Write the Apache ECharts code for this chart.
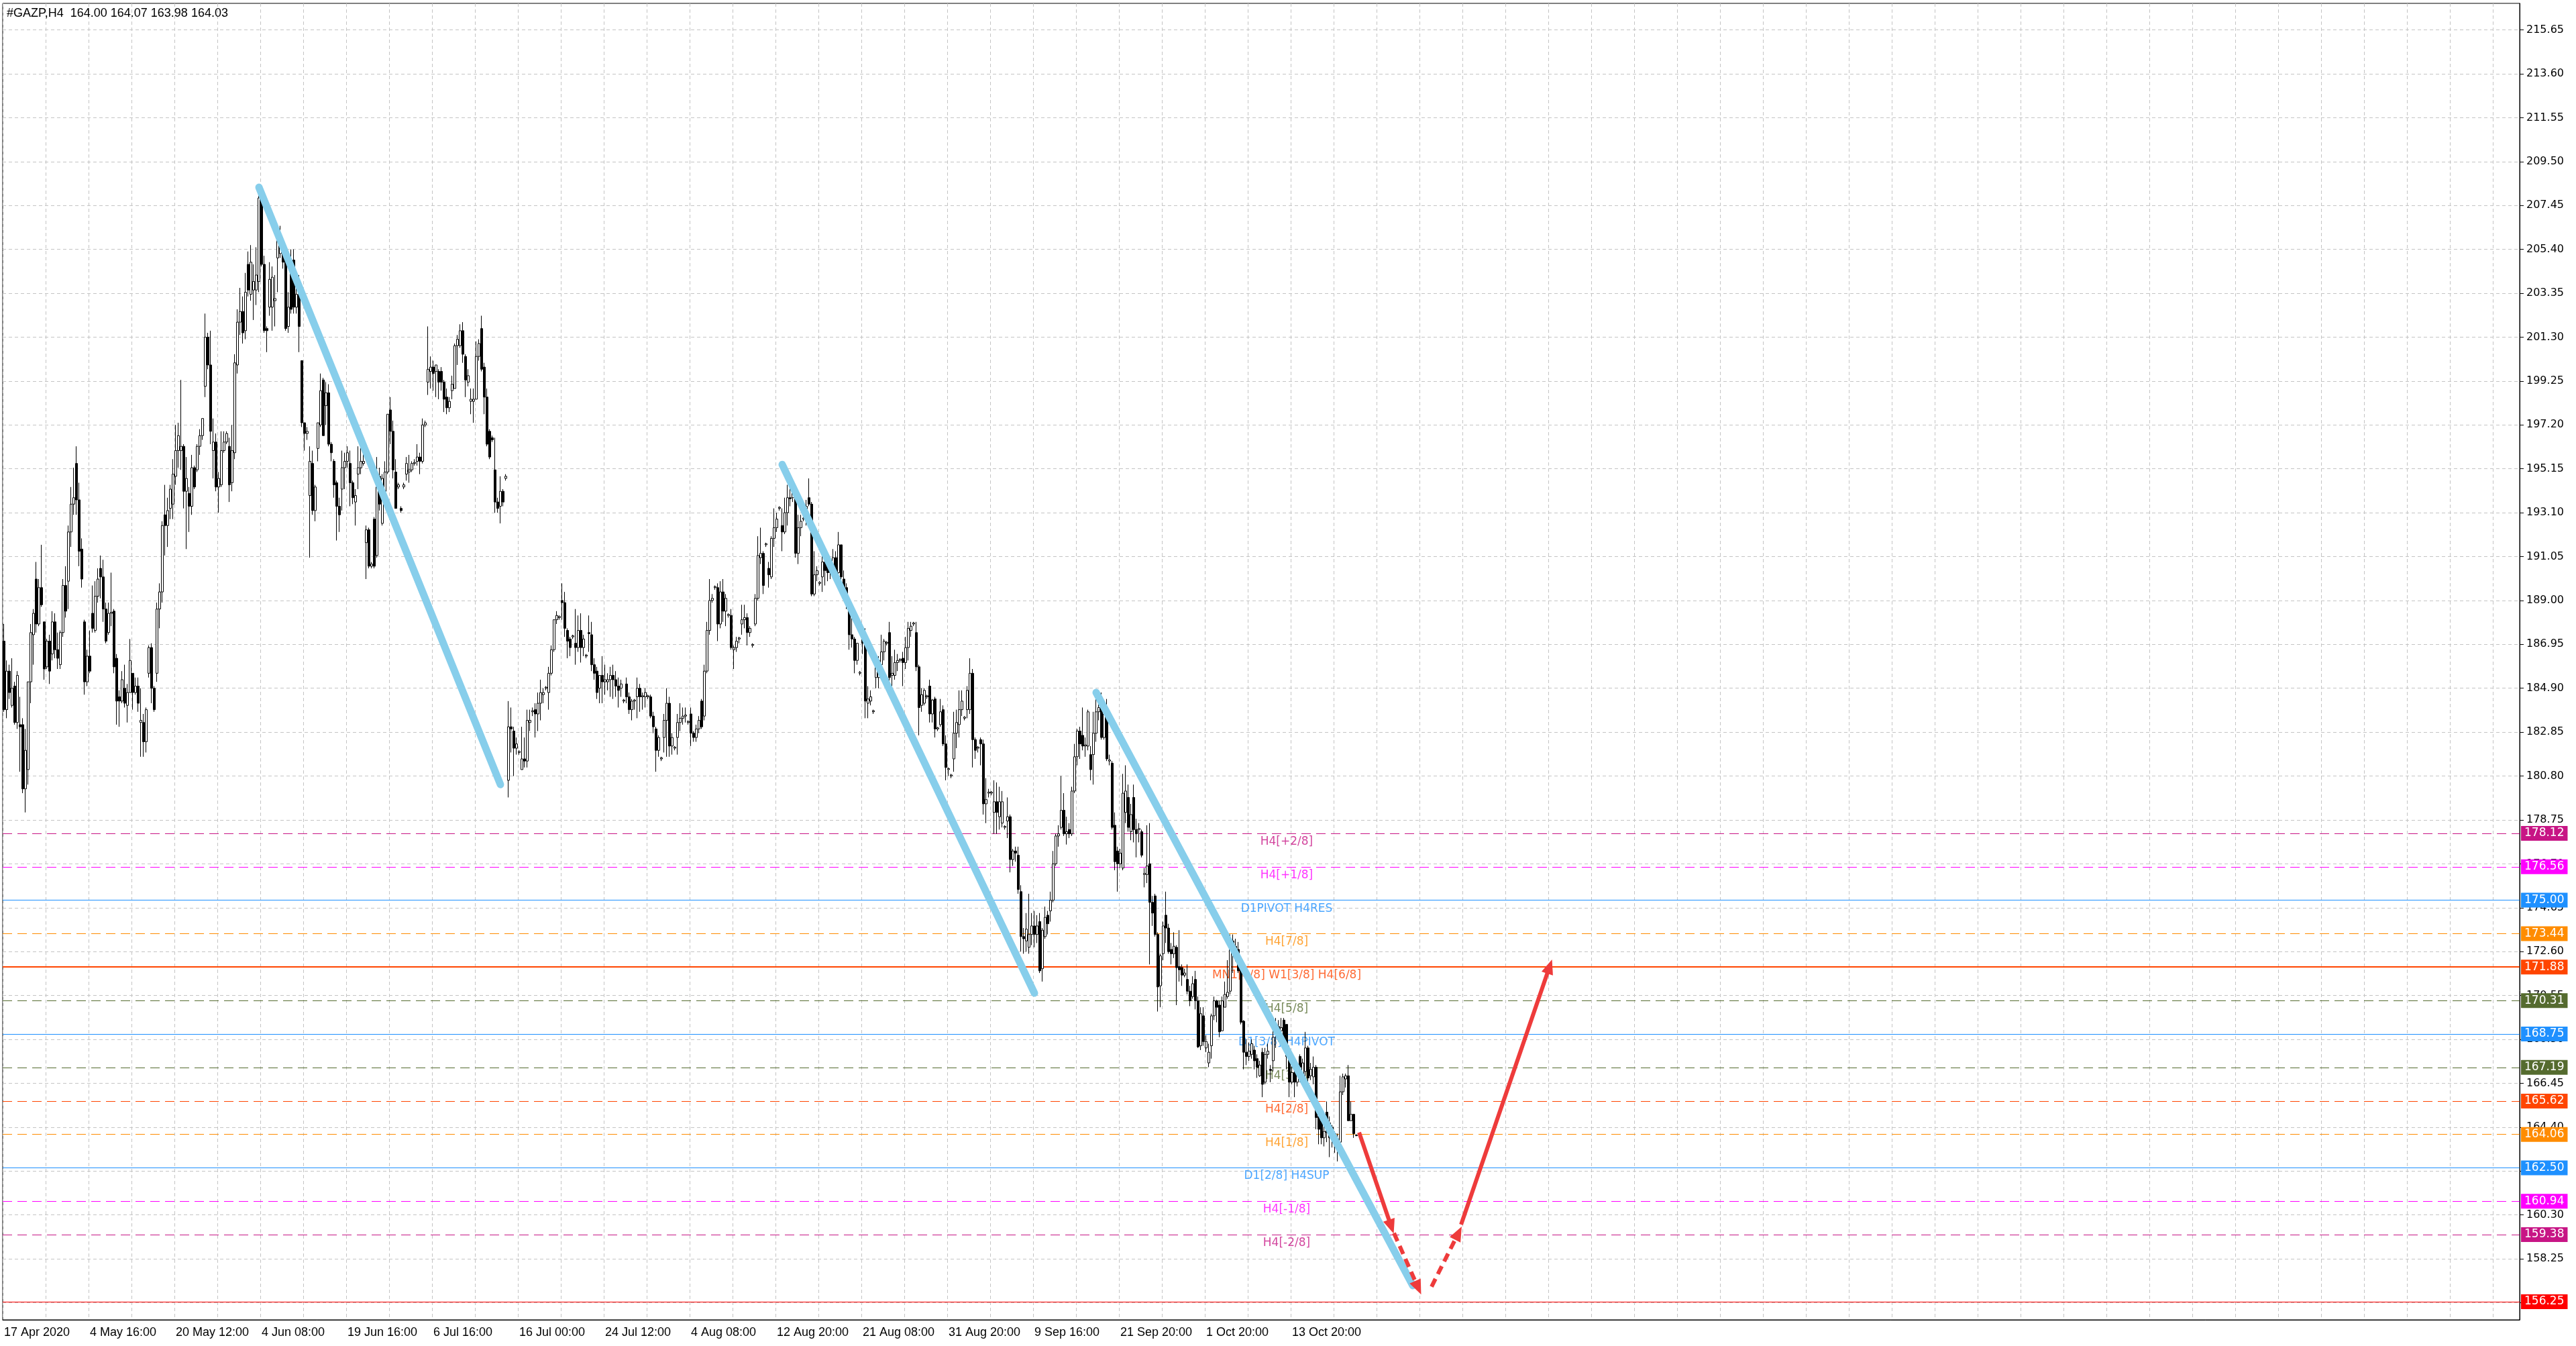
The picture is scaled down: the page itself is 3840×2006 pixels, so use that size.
<!DOCTYPE html>
<html>
<head>
<meta charset="utf-8">
<title>#GAZP,H4</title>
<script src="https://cdn.jsdelivr.net/npm/echarts@6/dist/echarts.min.js"></script>
<style>
html, body { margin: 0; padding: 0; background: #fff; }
#main { width: 3840px; height: 2006px; }
</style>
</head>
<body>
<div id="main"></div>
<script>
// header line of the terminal window
var headerText = '#GAZP,H4  164.00 164.07 163.98 164.03';

// time axis labels, one every 32 bars
var timeLabels = ['17 Apr 2020', '4 May 16:00', '20 May 12:00', '4 Jun 08:00', '19 Jun 16:00', '6 Jul 16:00',
  '16 Jul 00:00', '24 Jul 12:00', '4 Aug 08:00', '12 Aug 20:00', '21 Aug 08:00', '31 Aug 20:00',
  '9 Sep 16:00', '21 Sep 20:00', '1 Oct 20:00', '13 Oct 20:00'];

// price scale labels
var priceTicks = [215.65, 213.60, 211.55, 209.50, 207.45, 205.40, 203.35, 201.30, 199.25, 197.20, 195.15,
  193.10, 191.05, 189.00, 186.95, 184.90, 182.85, 180.80, 178.75, 176.70, 174.65, 172.60, 170.55,
  168.50, 166.45, 164.40, 162.35, 160.30, 158.25, 156.20];

// H4 bars [open, close, low, high]
var barsA = [
[187.1,183.9,183.8,187.9],[183.9,185.7,183.5,186.2],[185.7,184.7,184.4,186.0],[184.1,184.9,184.0,186.3],[185.0,183.3,183.2,185.2],
[183.3,185.5,183.0,185.7],[183.2,183.1,181.0,184.5],[183.2,180.2,180.0,183.5],[180.2,182.0,179.1,183.0],[181.1,185.2,180.4,185.2],
[185.2,187.5,184.2,187.9],[187.4,188.4,186.0,188.6],[190.0,187.9,187.5,190.8],[187.9,189.6,187.8,190.0],[189.6,188.8,188.7,191.6],
[188.0,185.8,185.3,188.0],[185.9,187.1,185.8,187.2],[187.1,185.7,185.1,187.4],[186.5,188.0,186.2,188.5],[188.0,186.7,186.3,188.4],
[186.7,186.3,185.8,187.5],[186.0,187.5,185.8,187.6],[187.5,189.7,187.3,190.0],[189.7,188.5,188.2,190.6],[189.9,192.2,188.6,192.5],
[192.2,193.5,191.5,194.3],[193.5,193.8,193.0,195.2],[195.4,193.7,193.0,196.2],[193.7,191.3,190.6,194.5],[191.4,190.0,189.6,191.9],
[188.0,185.2,184.6,188.1],[185.2,186.4,185.0,186.7],[186.4,185.7,185.6,187.6],[188.4,187.7,187.5,189.7],[187.6,189.2,187.5,189.9],
[189.2,190.0,188.9,190.5],[190.5,190.1,189.1,191.1],[190.1,188.6,188.0,190.9],[188.6,187.1,187.0,188.9],[187.5,188.4,187.4,188.9],
[188.4,188.45,187.8,190.3],[188.5,185.9,185.6,188.6],[186.3,184.3,183.2,186.5],[184.5,184.3,183.1,184.8],[184.3,185.3,184.2,185.7],
[184.9,184.2,184.0,186.0],[184.1,184.7,183.3,185.1],[184.7,186.2,184.7,187.2],[185.6,184.7,183.9,185.6],[184.7,185.0,184.6,185.4],
[185.0,184.2,183.8,185.4],[183.3,183.4,181.7,184.9],[183.3,182.4,181.7,183.7],[182.4,183.9,181.9,184.0],[185.6,186.8,185.4,186.9],
[186.8,184.9,184.2,187.0],[184.9,183.9,183.8,185.0],[185.6,188.6,185.2,188.9],[188.6,189.4,187.7,189.8],[189.4,192.5,188.9,192.7],
[193.0,192.5,191.1,194.4],[192.5,193.2,191.5,193.8],[193.3,194.2,192.8,194.4],[193.5,194.9,192.8,195.6],[194.8,196.0,194.4,197.2],
[196.0,196.7,195.2,197.3],[196.0,196.2,195.1,199.3],[196.2,194.1,193.3,196.3],[194.1,194.7,191.4,195.7],[194.0,193.4,192.2,194.3],
[193.4,195.2,193.0,195.8],[195.2,194.3,194.2,195.3],[195.1,196.2,195.0,196.3],[196.2,196.7,195.8,197.0],[196.7,197.5,196.5,197.5],
[199.0,201.3,198.5,202.4],[201.3,200.0,199.8,201.5],[200.0,196.9,196.3,201.6],[196.0,196.4,194.7,197.5],[196.4,194.3,194.1,196.8],
[194.3,194.7,193.1,195.0],[194.4,196.0,194.3,196.9],[196.0,196.4,195.9,196.9],[196.4,196.8,196.3,196.9],[196.2,194.4,193.6,196.6],
[194.5,196.0,194.1,197.2],[195.9,200.1,195.6,200.5],[200.0,202.0,199.6,202.6],[202.0,202.5,201.4,203.6],[202.5,201.5,201.0,203.2],
[201.6,203.4,201.2,204.3],[204.7,203.5,203.2,205.3],[203.3,204.8,203.0,205.6],[203.5,203.9,202.1,204.7],[203.5,204.2,202.8,205.5],
[203.9,207.8,203.4,208.4],[207.7,204.7,204.6,208.0],[204.7,201.6,201.5,205.1],[201.7,201.6,200.6,201.8],[202.7,204.0,202.3,204.8]
];
var barsB = [
[202.7,204.1,201.6,204.6],[203.0,203.1,201.8,204.2],[205.0,205.9,203.4,206.0],[205.2,205.5,205.0,206.5],[205.4,204.8,204.5,205.9],
[205.0,201.7,201.6,205.6],[201.8,202.7,201.5,203.4],[204.3,202.6,202.4,205.4],[204.9,202.7,202.4,205.4],[202.7,203.3,202.4,203.9],
[203.3,201.8,200.6,204.2],[200.2,197.3,197.1,200.2],[197.3,196.8,196.0,197.3],[196.8,196.9,196.5,197.1],[193.9,195.5,191.0,196.2],
[195.4,193.2,193.0,196.0],[193.2,194.3,192.7,194.4],[196.1,197.3,195.5,197.3],[197.2,198.8,197.1,199.6],[199.3,196.7,196.7,199.4],
[198.1,198.7,197.2,199.2],[198.7,196.3,196.2,199.1],[196.3,195.9,195.5,196.4],[195.5,194.4,193.8,195.6],[194.5,193.4,191.8,194.6],
[193.4,193.0,192.2,193.8],[194.2,195.2,193.2,196.0],[195.2,195.5,194.2,195.9],[195.5,195.9,195.2,196.2],[195.4,194.5,193.4,196.0],
[194.5,193.8,193.5,194.6],[193.6,193.9,192.5,194.2],[194.9,195.2,194.2,196.2],[195.2,195.5,194.9,196.2],[195.4,195.5,195.3,196.4],
[191.7,192.3,190.0,192.5],[192.3,190.6,190.5,192.4],[190.6,190.7,190.5,190.8],[192.8,190.6,190.5,192.9],[191.1,194.3,191.0,195.7],
[194.8,193.5,193.2,195.2],[192.6,194.7,192.5,194.9],[194.1,195.0,193.7,195.5],[195.0,197.7,194.9,197.7],[197.9,196.9,196.3,198.5],
[196.9,195.1,194.7,197.4],[195.0,193.3,193.3,195.6],[194.3,194.4,194.2,194.5],[193.3,193.2,193.1,193.4],[194.3,194.4,194.2,194.5],
[194.9,195.4,194.6,195.7],[195.0,195.1,194.5,195.8],[195.1,195.4,195.0,195.5],[195.4,195.45,195.3,195.6],[195.5,195.7,195.3,196.3],
[195.7,195.5,194.9,195.9],[195.5,197.2,195.4,197.5],[197.2,197.3,197.1,197.4],[199.2,199.8,198.6,201.8],[199.7,199.9,198.9,200.4],
[199.9,199.6,198.8,200.2],[199.7,200.0,198.5,200.0],[199.7,199.2,198.4,199.8],[199.7,199.2,198.8,199.9],[199.2,198.4,197.8,199.3],
[198.5,198.0,197.7,198.9],[198.0,198.3,197.8,198.5],[198.8,199.1,198.4,199.5],[198.9,200.9,198.9,201.0],[200.9,201.2,200.0,201.4],
[200.9,201.6,200.8,201.9],[201.6,200.5,200.1,202.0],[200.4,199.3,198.5,200.5],[199.2,199.5,199.0,199.8],[198.3,198.4,197.7,198.9],
[198.3,198.4,197.3,198.9],[198.4,200.4,198.4,201.1],[200.4,201.0,200.2,201.2],[201.7,199.8,199.7,202.3],[199.9,198.5,197.7,200.1],
[198.5,196.3,196.2,198.9],[196.9,195.7,195.6,197.0],[196.6,196.5,196.4,196.7],[195.1,193.6,193.1,196.6],[193.6,193.3,193.1,193.8],
[193.4,194.1,192.6,194.8],[194.1,193.6,193.4,194.2],[194.7,194.8,194.6,194.9],[180.6,183.1,179.8,184.3],[183.1,183.0,181.9,184.0],
[182.9,182.1,180.8,183.1],[182.1,182.3,181.8,182.6],[181.9,181.95,181.8,182.0],[181.1,181.6,181.1,183.1],[181.6,181.5,181.2,182.6],
[181.5,183.4,181.2,183.9],[183.3,183.4,182.9,183.9],[183.8,183.85,183.6,184.0],[183.9,183.7,182.6,184.2],[183.7,184.2,182.9,184.7]
];
var barsC = [
[184.2,184.7,183.4,185.3],[184.6,184.7,184.2,184.9],[184.9,184.95,184.8,185.0],[184.7,185.6,183.9,185.9],[185.6,186.7,185.5,186.9],
[186.7,188.1,186.6,188.1],[188.1,188.3,187.9,188.5],[188.2,188.25,188.1,188.3],[189.0,188.9,188.1,189.8],[188.9,187.7,187.3,189.4],
[187.6,187.1,186.3,187.7],[187.2,186.8,186.4,187.3],[187.3,187.35,187.2,187.4],[187.0,186.8,186.0,188.6],[186.8,187.6,186.6,188.3],
[187.6,186.8,186.1,188.4],[186.8,187.2,186.4,187.4],[186.4,186.45,186.3,186.5],[187.5,187.45,186.6,188.3],[187.4,186.0,185.7,188.0],
[186.0,185.6,185.3,186.3],[185.7,184.7,184.4,185.9],[184.9,185.5,184.2,185.5],[185.5,185.2,184.2,186.4],[185.2,185.3,184.6,186.0],
[185.2,185.3,184.8,185.6],[185.3,185.5,184.5,185.9],[185.5,185.3,184.4,186.0],[185.3,185.0,184.5,185.7],[185.0,184.8,184.0,185.4],
[184.9,185.1,184.5,185.3],[184.3,184.35,184.2,184.4],[185.1,184.5,184.2,185.4],[184.5,183.9,183.7,184.7],[183.9,184.3,183.4,184.4],
[184.3,184.35,183.9,184.4],[184.5,184.9,183.5,185.4],[184.9,184.5,183.8,185.1],[184.5,184.55,183.9,184.7],[184.5,184.7,184.0,184.9],
[184.5,184.55,184.4,184.6],[184.5,183.6,183.5,184.6],[183.6,183.1,182.8,183.8],[183.0,182.0,181.0,183.1],[182.0,182.6,181.7,182.7],
[181.6,181.65,181.5,181.7],[182.6,183.4,181.9,183.7],[183.4,184.2,181.7,184.9],[184.2,182.2,181.7,184.5],[182.2,182.6,181.8,182.8],
[182.1,182.15,182.0,182.2],[182.6,183.3,181.8,183.7],[183.3,183.5,182.9,184.2],[183.5,183.6,183.2,184.0],[183.6,183.65,183.3,184.0],
[183.3,183.35,183.2,183.4],[183.7,182.8,182.2,184.0],[182.8,182.6,182.4,182.9],[182.6,183.0,182.4,183.2],[183.0,183.4,182.8,183.6],
[184.3,183.1,183.0,184.4],[183.6,185.7,183.4,186.0],[185.7,187.6,185.6,188.0],[187.6,189.0,187.4,190.0],[189.0,189.1,188.9,189.3],
[189.6,189.65,189.5,189.7],[189.6,187.9,187.1,189.8],[187.9,189.4,187.7,189.9],[189.4,188.5,188.0,190.0],[188.5,189.1,187.8,189.3],
[188.3,188.35,188.2,188.4],[188.3,186.8,186.7,188.6],[186.7,186.8,185.8,186.9],[186.8,187.1,186.6,187.3],[187.2,187.25,187.0,187.3],
[187.9,188.1,187.4,188.8],[188.1,188.2,187.7,188.8],[188.2,187.5,186.9,188.4],[187.5,187.7,187.3,187.8],[186.9,186.95,186.8,187.0],
[187.9,189.1,187.8,189.3],[189.1,191.1,189.0,192.0],[191.0,191.2,190.7,192.4],[191.2,189.7,189.3,191.3],[191.6,191.65,191.5,191.7],
[190.5,190.2,189.6,190.8],[190.1,191.9,190.0,192.0],[191.9,192.4,191.5,193.3],[192.4,192.8,192.2,193.1],[193.3,193.35,193.2,193.4],
[192.5,192.2,191.3,193.3],[192.2,193.1,192.1,193.8],[193.1,193.8,192.5,194.4],[193.8,193.75,193.4,194.3],[193.8,194.1,193.6,194.6],
[194.0,191.2,191.0,194.0],[191.2,192.4,190.7,193.0],[192.4,192.7,192.0,193.0],[192.8,192.85,192.7,192.9],[192.8,193.4,192.5,193.7]
];
var barsD = [
[193.8,193.5,193.4,194.7],[193.5,189.3,189.2,193.6],[189.3,190.2,189.2,191.3],[190.2,190.4,189.9,190.6],[189.8,189.85,189.7,189.9],
[190.1,190.8,189.4,191.5],[190.8,190.4,189.7,191.1],[190.6,190.3,189.9,190.8],[190.3,190.5,190.0,190.9],[190.5,191.0,190.2,191.4],
[191.0,190.2,189.8,191.3],[190.3,191.6,190.0,192.2],[191.6,190.1,189.4,191.6],[190.0,189.6,189.0,190.4],[189.6,189.0,188.6,189.8],
[188.7,187.4,186.7,189.1],[187.4,187.2,186.8,188.2],[187.2,186.2,185.6,187.3],[186.2,187.0,186.0,187.0],[185.6,185.65,185.5,185.7],
[187.3,187.0,186.5,187.6],[187.0,184.3,183.5,187.7],[184.2,184.4,183.5,185.0],[184.3,184.5,184.1,184.8],[183.8,183.85,183.7,183.9],
[185.4,186.0,184.9,186.3],[185.4,186.2,184.9,186.4],[186.0,186.6,185.4,187.4],[186.6,187.1,186.2,187.2],[187.0,187.05,186.9,187.1],
[187.5,185.4,185.2,188.0],[185.5,185.6,185.0,186.4],[185.5,186.1,185.3,186.7],[186.1,186.2,185.7,186.5],[186.2,186.25,186.1,186.3],
[186.3,186.1,185.0,186.6],[186.1,186.8,185.8,187.3],[186.8,187.7,186.2,188.0],[187.6,187.8,187.3,188.0],[187.9,187.95,187.8,188.0],
[187.5,185.9,185.7,188.0],[185.9,184.0,182.7,186.0],[184.1,184.6,183.8,184.9],[184.2,184.8,184.1,184.9],[184.5,184.55,184.4,184.6],
[185.0,183.7,183.3,185.3],[183.7,184.35,183.3,184.4],[184.4,183.0,182.6,184.5],[183.0,183.05,182.9,183.1],[183.2,183.8,183.1,184.4],
[183.9,182.3,182.2,184.1],[182.3,181.2,180.6,182.7],[181.1,181.15,180.8,181.2],[180.8,180.85,180.7,180.9],[181.6,182.8,181.0,183.8],
[182.8,183.3,182.1,183.9],[183.2,183.9,182.6,184.8],[183.9,184.3,183.6,184.8],[183.5,183.55,183.4,183.6],[183.9,184.8,183.5,185.0],
[183.9,185.6,183.7,186.3],[185.6,182.5,181.2,185.8],[182.5,182.0,181.6,182.6],[182.1,182.15,181.9,182.2],[182.5,182.3,181.3,182.6],
[182.3,179.5,179.0,182.5],[179.5,179.7,178.6,180.7],[180.0,180.05,179.8,180.2],[180.0,180.05,179.9,180.1],[179.1,179.6,178.1,180.6],
[179.6,179.1,178.1,180.5],[178.9,179.6,178.3,180.3],[178.6,179.6,178.4,180.1],[178.4,178.45,178.3,178.5],[178.7,178.9,177.9,179.8],
[178.9,176.9,176.3,179.0],[176.9,177.3,176.6,177.4],[177.3,177.2,176.8,177.5],[177.1,175.5,175.3,177.5],[175.4,173.3,172.6,175.7],
[173.3,173.2,172.5,173.7],[173.1,173.65,172.6,174.4],[172.8,173.4,172.5,175.3],[173.4,173.8,172.9,174.4],[173.8,173.4,172.8,174.5],
[173.4,173.8,173.0,174.3],[174.0,171.7,171.6,174.4],[171.8,173.6,171.2,173.7],[173.3,174.2,173.2,174.7],[174.3,173.9,173.4,174.5],
[174.5,175.0,174.0,175.4],[175.0,176.7,174.9,177.3],[176.7,178.0,176.6,178.1],[178.0,178.1,177.5,178.5],[178.4,179.2,178.3,180.8],
[179.2,178.1,178.0,180.0],[178.1,178.2,177.6,178.9],[178.3,178.1,177.9,178.6],[178.1,180.1,178.0,180.3],[180.1,181.7,180.0,182.3]
];
var barsE = [
[181.7,182.9,181.3,183.0],[182.9,182.3,181.6,183.1],[182.7,182.2,182.0,184.0],[182.2,182.25,181.7,182.6],[182.2,183.8,182.0,183.9],
[181.8,181.1,180.6,182.2],[181.8,182.8,180.4,183.8],[182.8,183.8,182.4,184.8],[183.8,184.0,183.4,184.2],[184.3,182.6,182.5,184.7],
[182.6,183.7,182.5,184.1],[183.7,181.6,181.5,184.4],[181.5,181.55,181.3,181.8],[181.4,178.4,178.3,181.5],[178.5,176.8,176.4,179.1],
[177.3,176.7,175.4,177.5],[176.7,177.2,176.5,177.4],[176.5,180.0,176.4,180.9],[179.1,180.1,178.6,181.3],[179.8,178.4,178.2,180.4],
[178.2,179.0,177.8,179.5],[179.8,178.3,177.7,180.4],[178.3,178.1,177.0,178.8],[178.3,178.35,177.7,178.6],[178.2,177.1,177.0,178.3],
[176.2,176.25,175.6,176.5],[176.2,176.6,175.8,178.5],[176.7,174.9,172.0,178.6],[174.9,174.4,173.8,175.2],[175.2,173.4,173.3,175.3],
[173.4,170.95,169.8,173.5],[171.0,172.4,170.0,172.5],[172.5,173.8,172.2,174.0],[174.3,173.7,173.0,175.4],[173.7,172.6,172.5,173.9],
[172.7,172.5,172.0,173.0],[172.5,172.85,172.3,173.5],[172.8,171.85,170.1,172.9],[171.9,171.75,171.2,173.6],[171.85,171.5,171.0,172.0],
[171.5,171.6,171.4,171.8],[171.3,170.75,170.6,172.0],[170.75,170.3,170.05,171.0],[170.5,171.1,170.4,171.45],[171.3,170.3,169.9,171.7],
[170.3,168.15,168.1,170.5],[168.2,169.7,168.0,170.0],[169.6,168.4,168.2,170.0],[168.1,168.4,167.9,168.7],[167.4,167.9,167.2,168.3],
[168.2,169.6,167.6,169.7],[169.6,170.3,169.4,170.5],[170.3,170.0,169.3,170.35],[170.1,168.85,168.6,170.3],[168.9,170.3,168.9,170.5],
[170.0,170.6,170.0,171.2],[170.5,170.7,170.4,172.2],[170.75,172.7,170.6,173.4],[173.1,172.85,171.6,173.4],[172.85,172.3,172.15,173.2],
[172.7,171.7,171.6,173.05],[172.0,169.3,169.2,172.1],[169.35,167.9,167.1,169.4],[167.9,167.7,167.3,168.5],[167.7,167.95,167.5,168.35],
[167.8,168.3,167.6,168.5],[168.0,167.5,167.1,168.2],[167.6,167.2,166.7,167.8],[166.8,167.3,166.75,167.5],[167.9,166.4,165.8,168.1],
[166.5,167.8,166.4,168.1],[167.8,167.95,167.6,168.3],[167.1,167.05,166.5,167.3],[167.5,168.6,167.0,169.1],[168.95,169.1,168.1,169.5],
[169.1,168.9,168.4,169.4],[168.9,169.05,168.6,169.5],[169.4,168.1,168.0,169.5],[169.2,167.7,167.1,169.2],[167.8,166.5,165.8,168.2],
[166.5,166.95,166.4,167.5],[166.95,166.5,165.8,167.5],[166.5,167.1,166.3,167.3],[167.7,167.2,166.5,167.8],[166.8,167.4,166.6,167.6],
[167.0,168.1,166.7,168.85],[168.1,166.7,166.5,168.2],[166.8,167.1,166.6,167.4],[166.75,167.2,166.4,167.7],[167.2,164.85,164.3,167.3],
[164.9,164.3,163.6,165.4],[164.7,163.9,163.6,165.0],[163.9,164.2,163.5,164.5],[165.1,164.15,163.7,165.6],[164.6,163.9,163.0,164.9],
[164.4,164.0,163.45,164.5],[164.1,163.75,163.2,164.2],[163.8,163.85,162.8,164.1],[163.7,166.05,163.7,166.8],[166.05,166.75,165.9,166.9],
[166.65,166.8,166.25,166.9],[166.8,164.7,164.7,167.3],[164.7,165.0,164.7,165.6],[165.0,164.1,163.9,165.0],[164.00,164.03,163.98,164.07]
];

// murrey / pivot levels drawn as horizontal lines
var levelValues = [178.12, 176.56, 175.00, 173.44, 171.88, 170.31, 168.75, 167.19, 165.62, 164.06, 162.50, 160.94, 159.38, 156.25];
var levelNames = ['H4[+2/8]', 'H4[+1/8]', 'D1PIVOT H4RES', 'H4[7/8]', 'MN1[4/8] W1[3/8] H4[6/8]', 'H4[5/8]',
  'D1[3/8] H4PIVOT', 'H4[3/8]', 'H4[2/8]', 'H4[1/8]', 'D1[2/8] H4SUP', 'H4[-1/8]', 'H4[-2/8]', ''];
var levelColors = ['#C71585', '#FF00FF', '#1E90FF', '#FF8C00', '#FF4500', '#556B2F', '#1E90FF', '#556B2F',
  '#FF4500', '#FF8C00', '#1E90FF', '#FF00FF', '#C71585', '#FF0000'];
var levelDashed = [true, true, false, true, false, true, false, true, true, true, false, true, true, false];

// hand drawn channel lines [barIndex, price]
var trendLines = [
  [[95, 208.3], [185, 180.4]],
  [[290, 195.35], [384, 170.66]],
  [[407, 184.7], [525, 157.0]]
];
// forecast arrows [from, to, dashed]
var arrows = [
  [[505, 164.15], [517, 159.75], false],
  [[518, 159.45], [527, 156.9], true],
  [[532, 156.95], [542, 159.45], true],
  [[543, 159.85], [576, 171.9], false]
];

var NARROW = '"Liberation Sans", Arial, sans-serif';
var bars = barsA.concat(barsB, barsC, barsD, barsE);
var categories = [];
for (var i = 0; i < 938; i++) categories.push(String(i));

function isTimeTick(idx) {
  return idx % 32 === 0 && idx / 32 < timeLabels.length;
}

var chart = echarts.init(document.getElementById('main'));

var series = [];
// grid lines at price ticks
series.push({
  type: 'line', data: [], silent: true,
  markLine: {
    silent: true, z: 0, symbol: ['none', 'none'], label: { show: false },
    lineStyle: { color: '#c4c4c4', type: [5, 4], width: 1 },
    data: priceTicks.map(function (v) { return { yAxis: v }; })
  }
});
// level lines with price tags on the scale
series.push({
  type: 'line', data: [], silent: true,
  markLine: {
    silent: true, z: 1, symbol: ['none', 'none'],
    label: {
      show: true, position: 'end', distance: 2, color: '#fff', fontSize: 17,
      fontFamily: 'DejaVu Sans', padding: [3, 5, 2, 5],
      formatter: function (p) { return p.value.toFixed(2); }
    },
    data: levelValues.map(function (v, k) {
      return {
        yAxis: v,
        lineStyle: { color: levelColors[k], width: k === 4 ? 2 : 1, type: levelDashed[k] ? [14, 8] : 'solid' },
        label: { backgroundColor: levelColors[k] }
      };
    })
  }
});
// level names
series.push({
  type: 'scatter', silent: true, z: 1, symbolSize: 0,
  label: { show: true, position: 'bottom', distance: 4, fontSize: 17, fontFamily: 'DejaVu Sans' },
  data: levelValues.slice(0, 13).map(function (v, k) {
    return { value: [478, v], label: { color: levelColors[k], formatter: levelNames[k] } };
  })
});
series.push({
  type: 'candlestick', z: 2, data: bars, barWidth: 3, silent: true,
  itemStyle: { color: '#fff', color0: '#000', borderColor: '#000', borderColor0: '#000', borderWidth: 1 }
});
trendLines.forEach(function (seg) {
  series.push({
    type: 'line', z: 3, data: seg, symbol: 'none', silent: true,
    lineStyle: { color: '#87CEEB', width: 11, cap: 'round' }
  });
});
series.push({
  type: 'line', data: [], silent: true,
  markLine: {
    silent: true, z: 6, symbol: ['none', 'triangle'], symbolSize: [18, 22],
    label: { show: false },
    data: arrows.map(function (a) {
      return [
        { coord: a[0], lineStyle: { color: '#EE3B3B', width: 6, type: a[2] ? [13, 8] : 'solid' }, itemStyle: { color: '#EE3B3B' } },
        { coord: a[1] }
      ];
    })
  }
});

var option = {
  animation: false,
  backgroundColor: '#fff',
  title: {
    text: headerText, left: 10, top: 11, padding: 0,
    textStyle: { fontSize: 18, fontWeight: 'normal', color: '#000', fontFamily: NARROW }
  },
  grid: { left: 4, right: 84, top: 5, bottom: 39, show: true, borderColor: '#000', borderWidth: 1, backgroundColor: '#fff' },
  xAxis: {
    type: 'category', data: categories, boundaryGap: true,
    axisLine: { lineStyle: { color: '#000' } },
    axisTick: { alignWithLabel: true, length: 6, interval: isTimeTick, lineStyle: { color: '#000' } },
    axisLabel: {
      interval: isTimeTick, align: 'left', margin: 10, fontSize: 18, color: '#000', fontFamily: NARROW,
      formatter: function (v, idx) { return timeLabels[idx / 32] || ''; }
    },
    splitLine: { show: true, interval: function (idx) { return idx % 16 === 0; }, lineStyle: { color: '#c4c4c4', type: [5, 4] } }
  },
  yAxis: {
    type: 'value', position: 'right', min: 155.40, max: 216.89,
    axisLine: { show: true, lineStyle: { color: '#000' } },
    axisTick: { show: true, customValues: priceTicks, length: 6, lineStyle: { color: '#000' } },
    axisLabel: {
      customValues: priceTicks, margin: 10, color: '#000', fontSize: 16, fontFamily: 'DejaVu Sans',
      formatter: function (v) { return v.toFixed(2); }
    },
    splitLine: { show: false }
  },
  series: series
};
chart.setOption(option);
</script>
</body>
</html>
